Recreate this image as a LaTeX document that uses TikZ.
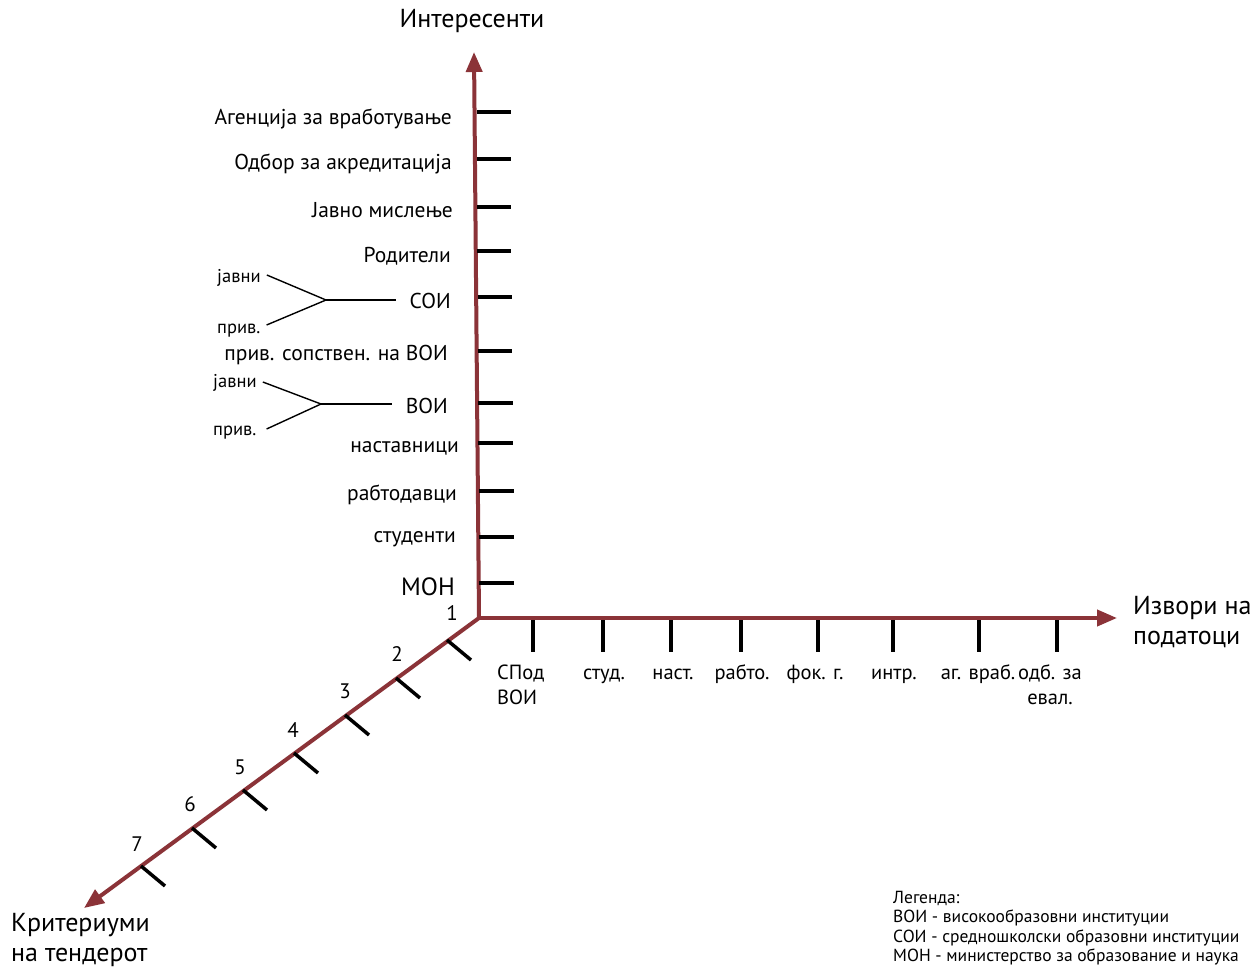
\documentclass[tikz,border=0pt]{standalone}
\usepackage{fontspec}
\setmainfont{PT Sans}
\usetikzlibrary{arrows.meta,calc}
\definecolor{axiscol}{HTML}{8B3338}
\tikzset{
  axisline/.style={draw=axiscol, line width=4pt, -{Triangle[length=20pt,width=16pt]}},
  tickmark/.style={draw=black, line width=3.5pt},
  branchline/.style={draw=black, line width=1.4pt},
  stakelabel/.style={anchor=east, inner sep=0pt, font=\fontsize{21.5}{24}\selectfont},
  subtype/.style={anchor=west, inner sep=0pt, font=\fontsize{18.5}{20}\selectfont},
  sourcelabel/.style={anchor=base, inner sep=0pt, align=center, font=\fontsize{20.5}{25}\selectfont},
  critnum/.style={inner sep=0pt, font=\fontsize{21}{24}\selectfont},
  axistitle/.style={inner sep=0pt, align=left, font=\fontsize{26}{30}\selectfont},
}
\begin{document}
\begin{tikzpicture}[x=1pt, y=-1pt]
\useasboundingbox (0,0) rectangle (1252,969);
\fill[white] (0,0) rectangle (1252,969);

% axes
\coordinate (O) at (479,618);
\coordinate (ytip) at (474,52);
\coordinate (xtip) at (1117,618);
\coordinate (ztip) at (84,908);
\draw[axisline] (O) -- (ytip);
\draw[axisline] (O) -- (xtip);
\draw[axisline] (O) -- (ztip);

\node[axistitle, anchor=center] (ytitle) at (472,21) {Интересенти};
\node[axistitle, anchor=west] (xtitle) at (1133,622) {Извори на\\податоци};
\node[axistitle, anchor=west] (ztitle) at (11,940) {Критериуми\\на тендерот};

% stakeholders
\draw[tickmark] (477,112) -- (511,112);
\draw[tickmark] (477,159) -- (511,159);
\draw[tickmark] (477,207) -- (511,207);
\draw[tickmark] (477,251) -- (511,251);
\draw[tickmark] (478,297) -- (512,297);
\draw[tickmark] (478,351) -- (512,351);
\draw[tickmark] (478,403) -- (513,403);
\draw[tickmark] (478,443) -- (513,443);
\draw[tickmark] (479,491) -- (514,491);
\draw[tickmark] (479,537) -- (514,537);
\draw[tickmark] (479,583) -- (514,583);

\node[stakelabel] (agen) at (452,119) {Агенција за вработување};
\node[stakelabel] (odbor) at (452,164) {Одбор за акредитација};
\node[stakelabel] (javno) at (453,210) {Јавно мислење};
\node[stakelabel] (rod) at (451,256) {Родители};
\node[stakelabel] (soi) at (451,301) {СОИ};
\node[stakelabel] (priv) at (448,355) {прив. сопствен. на ВОИ};
\node[stakelabel] (voi) at (448,406) {ВОИ};
\node[stakelabel] (nast) at (459,448) {наставници};
\node[stakelabel] (rabot) at (457,495) {рабтодавци};
\node[stakelabel] (stud) at (456,539) {студенти};
\node[stakelabel, font=\fontsize{25}{28}\selectfont] (mon) at (455,587) {МОН};

% public / private split
\node[subtype] (soiJavni) at (217,278) {јавни};
\node[subtype] (soiPriv) at (217,331) {прив.};
\coordinate (soiJ) at (326,300);
\draw[branchline] ($(soi.west)+(-14,-1)$) -- (soiJ);
\draw[branchline] ($(soiJavni.east)+(6,-3)$) -- (soiJ) -- ($(soiPriv.east)+(6,-6)$);

\node[subtype] (voiJavni) at (213,383) {јавни};
\node[subtype] (voiPriv) at (213,433) {прив.};
\coordinate (voiJ) at (321,404);
\draw[branchline] ($(voi.west)+(-14,-2)$) -- (voiJ);
\draw[branchline] ($(voiJavni.east)+(6,-1)$) -- (voiJ) -- ($(voiPriv.east)+(10,-4)$);

% data sources
\draw[tickmark] (533,620) -- (533,652);
\draw[tickmark] (603,620) -- (603,652);
\draw[tickmark] (671,620) -- (671,652);
\draw[tickmark] (741,620) -- (741,652);
\draw[tickmark] (818,620) -- (818,652);
\draw[tickmark] (893,620) -- (893,652);
\draw[tickmark] (979,620) -- (979,652);
\draw[tickmark] (1057,620) -- (1057,652);

\node[sourcelabel, anchor=base west, align=left] (spod) at (497,704) {СПод\\ВОИ};
\node[sourcelabel] (studd) at (604,679) {студ.};
\node[sourcelabel] (nastd) at (673,679) {наст.};
\node[sourcelabel] (rabto) at (742,679) {рабто.};
\node[sourcelabel] (fok) at (815,679) {фок. г.};
\node[sourcelabel] (intr) at (894,679) {интр.};
\node[sourcelabel] (agvr) at (978,679) {аг. враб.};
\node[sourcelabel] (odb) at (1050,704) {одб. за\\евал.};

% tender criteria
\draw[tickmark] (447,640) -- ++(24,20);
\draw[tickmark] (396,678) -- ++(24,20);
\draw[tickmark] (345,715) -- ++(24,20);
\draw[tickmark] (294,753) -- ++(24,20);
\draw[tickmark] (243,790) -- ++(24,20);
\draw[tickmark] (192,828) -- ++(24,20);
\draw[tickmark] (141,866) -- ++(24,20);

\node[critnum] (c1) at (452,613) {1};
\node[critnum] (c2) at (397,654) {2};
\node[critnum] (c3) at (345,691) {3};
\node[critnum] (c4) at (293,730) {4};
\node[critnum] (c5) at (240,767) {5};
\node[critnum] (c6) at (190,804) {6};
\node[critnum] (c7) at (137,844) {7};

% legend
\node[anchor=north west, inner sep=0pt, align=left, font=\fontsize{17.5}{19.4}\selectfont] (legend) at (893,891)
  {Легенда:\\ВОИ - високообразовни институции\\СОИ - средношколски образовни институции\\МОН - министерство за образование и наука};
\end{tikzpicture}
\end{document}
